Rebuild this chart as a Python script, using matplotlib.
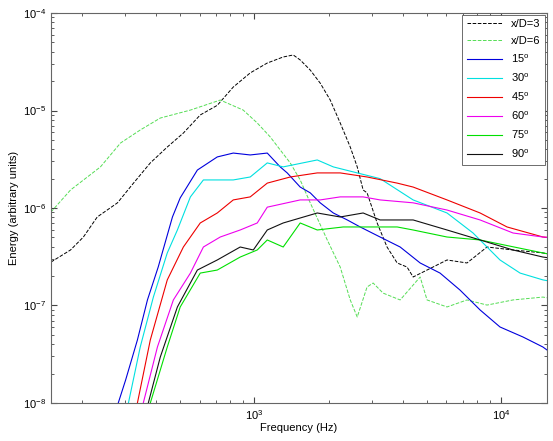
import numpy as np
import matplotlib
matplotlib.use("Agg")
import matplotlib.pyplot as plt

plt.rcParams['font.family'] = ['Liberation Sans', 'DejaVu Sans']
plt.rcParams['mathtext.default'] = 'regular'

# --- data (Hz, energy) ---
f_xd3 = [150, 180, 203, 231, 279, 324, 379, 444, 516, 604, 708, 822, 963, 1129,
         1310, 1439, 1535, 1686, 1850, 2032, 2230, 2449, 2614, 2762, 2866, 3148,
         3452, 3795, 4161, 4404, 5015, 6043, 7282, 8777, 11190, 14790, 15350]
e_xd3 = [2.79e-7, 3.71e-7, 5.04e-7, 8.09e-7, 1.13e-6, 1.80e-6, 2.90e-6, 4.22e-6,
         5.87e-6, 9.0e-6, 1.13e-5, 1.74e-5, 2.43e-5, 3.07e-5, 3.54e-5, 3.71e-5,
         3.30e-5, 2.60e-5, 1.91e-5, 1.28e-5, 7.45e-6, 4.22e-6, 2.64e-6, 1.53e-6,
         1.43e-6, 7.02e-7, 3.98e-7, 2.73e-7, 2.48e-7, 1.96e-7, 2.31e-7, 2.93e-7,
         2.73e-7, 3.98e-7, 3.71e-7, 3.46e-7, 3.4e-7]

f_xd6 = [150, 180, 238, 287, 345, 416, 551, 728, 902, 1028, 1161, 1274, 1399,
         1535, 1686, 1976, 2230, 2449, 2614, 2866, 3033, 3327, 3902, 4702, 5015,
         6043, 7282, 8777, 11190, 14790, 15350]
e_xd6 = [9.1e-7, 1.53e-6, 2.64e-6, 4.64e-6, 6.31e-6, 8.37e-6, 1.01e-5, 1.28e-5,
         1.01e-5, 7.45e-6, 5.35e-6, 3.94e-6, 2.90e-6, 1.94e-6, 1.13e-6, 4.70e-7,
         2.48e-7, 1.14e-7, 7.62e-8, 1.55e-7, 1.70e-7, 1.34e-7, 1.14e-7, 1.96e-7,
         1.14e-7, 9.66e-8, 1.14e-7, 1.01e-7, 1.14e-7, 1.22e-7, 1.2e-7]

f_15 = [281, 301, 336, 369, 408, 466, 501, 588, 708, 822, 963, 1129, 1274, 1360,
        1535, 1686, 1850, 2091, 2382, 2687, 3236, 3902, 4702, 5662, 6821, 8227,
        9907, 12280, 14790, 15350]
e_15 = [1e-8, 1.72e-8, 4.43e-8, 1.14e-7, 2.48e-7, 8.09e-7, 1.27e-6, 2.45e-6,
        3.34e-6, 3.66e-6, 3.50e-6, 3.66e-6, 2.64e-6, 2.29e-6, 1.64e-6, 1.43e-6,
        1.13e-6, 8.89e-7, 7.54e-7, 6.39e-7, 5.04e-7, 3.98e-7, 2.73e-7, 2.15e-7,
        1.44e-7, 9.0e-8, 6.02e-8, 4.75e-8, 3.75e-8, 3.5e-8]

f_30 = [309, 345, 390, 444, 488, 551, 622, 728, 822, 963, 1129, 1310, 1800,
        2091, 2614, 3236, 4404, 6043, 7704, 9907, 11950, 14790, 15350]
e_30 = [1e-8, 3.75e-8, 1.22e-7, 3.46e-7, 5.95e-7, 1.30e-6, 1.94e-6, 1.94e-6,
        1.94e-6, 2.08e-6, 2.90e-6, 2.64e-6, 3.11e-6, 2.64e-6, 2.29e-6, 2.0e-6,
        1.21e-6, 8.89e-7, 5.54e-7, 2.93e-7, 2.15e-7, 1.83e-7, 1.8e-7]

f_45 = [336, 379, 444, 516, 604, 708, 822, 963, 1129, 1399, 1800, 2230, 2866,
        3795, 4404, 6043, 8227, 10580, 14790, 15350]
e_45 = [1e-8, 4.43e-8, 1.83e-7, 3.98e-7, 7.02e-7, 8.89e-7, 1.21e-6, 1.30e-6,
        1.80e-6, 2.08e-6, 2.29e-6, 2.29e-6, 2.08e-6, 1.80e-6, 1.64e-6, 1.21e-6,
        8.89e-7, 6.39e-7, 5.04e-7, 5.0e-7]

f_60 = [355, 405, 470, 551, 622, 728, 877, 1028, 1129, 1535, 1850, 2230, 2762,
        3236, 4404, 6043, 8227, 11190, 14790, 15350]
e_60 = [1e-8, 3.75e-8, 1.14e-7, 2.15e-7, 3.98e-7, 5.04e-7, 5.95e-7, 7.02e-7,
        1.02e-6, 1.21e-6, 1.21e-6, 1.30e-6, 1.30e-6, 1.21e-6, 1.13e-6, 9.53e-7,
        7.54e-7, 5.54e-7, 5.04e-7, 5.0e-7]

f_75 = [379, 444, 501, 604, 708, 877, 1028, 1129, 1310, 1535, 1800, 2293, 2866,
        3795, 4404, 6043, 8227, 11190, 14790, 15350]
e_75 = [1e-8, 3.75e-8, 9.66e-8, 2.15e-7, 2.31e-7, 3.14e-7, 3.71e-7, 4.70e-7,
        3.98e-7, 7.02e-7, 5.95e-7, 6.39e-7, 6.39e-7, 6.39e-7, 5.95e-7, 5.04e-7,
        4.70e-7, 4.0e-7, 3.46e-7, 3.4e-7]

f_90 = [372, 416, 488, 588, 708, 877, 991, 1129, 1310, 1800, 2230, 2762, 3236,
        4404, 6043, 8227, 11190, 14790, 15350]
e_90 = [1e-8, 2.96e-8, 9.66e-8, 2.31e-7, 2.93e-7, 3.98e-7, 3.71e-7, 5.95e-7,
        7.02e-7, 8.89e-7, 8.09e-7, 8.89e-7, 7.54e-7, 7.54e-7, 5.95e-7, 4.70e-7,
        3.71e-7, 3.14e-7, 3.1e-7]

fig = plt.figure(figsize=(5.53, 4.41), dpi=100)
ax = fig.add_axes([0.0922, 0.0862, 0.8968, 0.8843])

ax.loglog(f_xd3, e_xd3, '--', color='k', lw=0.7, label='x/D=3')
ax.loglog(f_xd6, e_xd6, '--', color='#55dd55', lw=0.7, label='x/D=6')
ax.loglog(f_15, e_15, '-', color='#0000dd', lw=0.8, label='15$^o$')
ax.loglog(f_30, e_30, '-', color='#00e0e0', lw=0.8, label='30$^o$')
ax.loglog(f_45, e_45, '-', color='#ee0000', lw=0.8, label='45$^o$')
ax.loglog(f_60, e_60, '-', color='#ee00ee', lw=0.8, label='60$^o$')
ax.loglog(f_75, e_75, '-', color='#00e000', lw=0.8, label='75$^o$')
ax.loglog(f_90, e_90, '-', color='#111111', lw=0.8, label='90$^o$')

ax.set_xlim(150, 15350)
ax.set_ylim(1e-8, 1e-4)
ax.tick_params(which='both', direction='in', top=True, right=True,
               labelsize=8, colors='#444444', labelcolor='k')
ax.tick_params(which='major', length=4)
ax.tick_params(which='minor', length=2)
for s in ax.spines.values():
    s.set_color('#666666')
    s.set_linewidth(0.8)

ax.set_xlabel('Frequency (Hz)', fontsize=8, labelpad=1)
ax.set_ylabel('Energy (arbitrary units)', fontsize=8, labelpad=3)

leg = ax.legend(loc='upper right', fontsize=8, handlelength=3.2,
                labelspacing=0.6, borderaxespad=0.15, fancybox=False,
                framealpha=1, edgecolor='#555555')
leg.get_frame().set_linewidth(0.6)

fig.savefig('out.png', dpi=100)
